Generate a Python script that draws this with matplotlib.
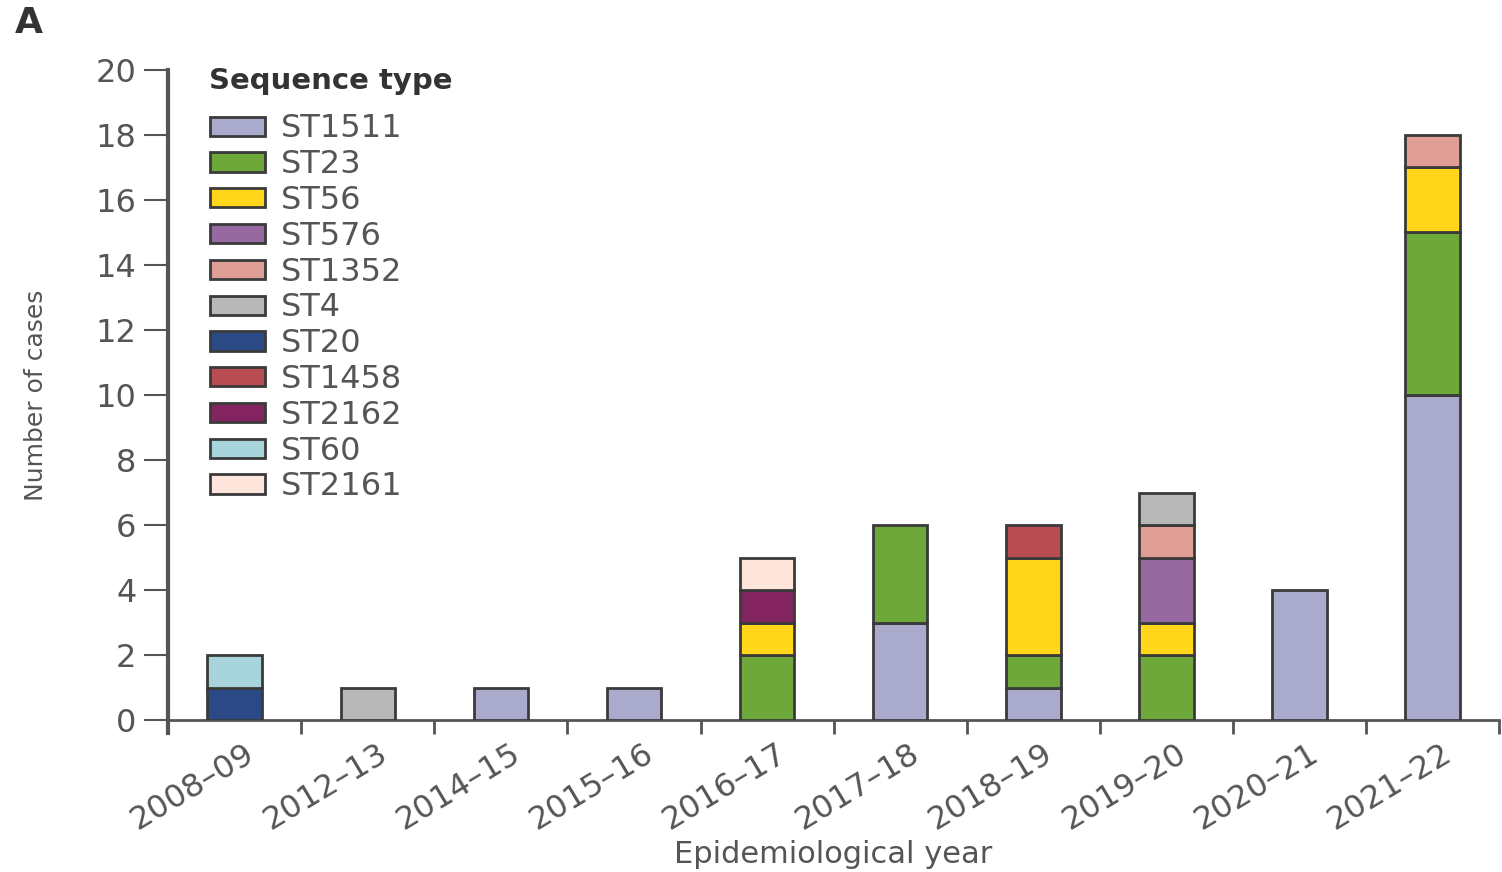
import numpy as np
import matplotlib.pyplot as plt
from matplotlib.patches import Patch

# data
years = ["2008–09", "2012–13", "2014–15", "2015–16", "2016–17",
         "2017–18", "2018–19", "2019–20", "2020–21", "2021–22"]
seq_types = ["ST1511", "ST23", "ST56", "ST576", "ST1352", "ST4",
             "ST20", "ST1458", "ST2162", "ST60", "ST2161"]
counts = {
    "ST1511": [0, 0, 1, 1, 0, 3, 1, 0, 4, 10],
    "ST23":   [0, 0, 0, 0, 2, 3, 1, 2, 0, 5],
    "ST56":   [0, 0, 0, 0, 1, 0, 3, 1, 0, 2],
    "ST576":  [0, 0, 0, 0, 0, 0, 0, 2, 0, 0],
    "ST1352": [0, 0, 0, 0, 0, 0, 0, 1, 0, 1],
    "ST4":    [0, 1, 0, 0, 0, 0, 0, 1, 0, 0],
    "ST20":   [1, 0, 0, 0, 0, 0, 0, 0, 0, 0],
    "ST1458": [0, 0, 0, 0, 0, 0, 1, 0, 0, 0],
    "ST2162": [0, 0, 0, 0, 1, 0, 0, 0, 0, 0],
    "ST60":   [1, 0, 0, 0, 0, 0, 0, 0, 0, 0],
    "ST2161": [0, 0, 0, 0, 1, 0, 0, 0, 0, 0],
}
colors = {
    "ST1511": "#aaaacc", "ST23": "#6fa83a", "ST56": "#ffd61a",
    "ST576": "#9669a0", "ST1352": "#de9e96", "ST4": "#b8b8b8",
    "ST20": "#2b4a85", "ST1458": "#b84c50", "ST2162": "#83235f",
    "ST60": "#a8d4dc", "ST2161": "#fde5dc",
}

grey = "#555555"
edge = "#3a3a3a"

fig = plt.figure(figsize=(15.02, 8.72), dpi=100)
ax = fig.add_axes([0.112, 0.174, 0.886, 0.746])

x = np.arange(len(years))
bottom = np.zeros(len(years))
for st in seq_types:
    vals = np.array(counts[st], dtype=float)
    mask = vals > 0
    ax.bar(x[mask], vals[mask], bottom=bottom[mask], width=0.41,
           color=colors[st], edgecolor=edge, linewidth=2, zorder=3)
    bottom += vals

ax.set_xlim(-0.5, 9.5)
ax.set_ylim(0, 20)
ax.set_yticks(np.arange(0, 21, 2))
ax.tick_params(axis="y", length=17, width=1.5, color=grey, labelsize=23,
               labelcolor=grey, pad=6)

# category boundary ticks on x, labels centred under bars
ax.set_xticks(np.arange(-0.5, 10, 1))
ax.set_xticklabels([])
ax.tick_params(axis="x", which="major", length=10, width=2, color=grey)
ax.set_xticks(x + 0.07, minor=True)
ax.set_xticklabels(years, minor=True, rotation=31, ha="right",
                   rotation_mode="anchor", fontsize=23, color=grey)
ax.tick_params(axis="x", which="minor", length=0, pad=13)

for side in ["top", "right"]:
    ax.spines[side].set_visible(False)
ax.spines["left"].set_color(grey)
ax.spines["left"].set_linewidth(3)
ax.spines["left"].set_bounds(-0.4, 20)
ax.spines["bottom"].set_color(grey)
ax.spines["bottom"].set_linewidth(2)

ax.set_ylabel("Number of cases", fontsize=18, color=grey, labelpad=34)
ax.set_xlabel("Epidemiological year", fontsize=22, color=grey)
ax.xaxis.set_label_coords(0.5, -0.207)
ax.xaxis.label.set_va("center")

handles = [Patch(facecolor=colors[st], edgecolor=edge, linewidth=2) for st in seq_types]
leg = ax.legend(handles, seq_types, loc="upper left",
                bbox_to_anchor=(0.01, 0.977), frameon=False, fontsize=23,
                handlelength=1.7, handleheight=0.55, labelspacing=0.15,
                handletextpad=0.5)
for t in leg.get_texts():
    t.set_color(grey)
ax.text(0.031, 0.983, "Sequence type", transform=ax.transAxes, fontsize=21,
        fontweight="bold", color="#333333", va="center", ha="left")

fig.text(0.01, 0.962, "A", fontsize=26, fontweight="bold", color="#333333")

fig.savefig("out.png", dpi=100)
